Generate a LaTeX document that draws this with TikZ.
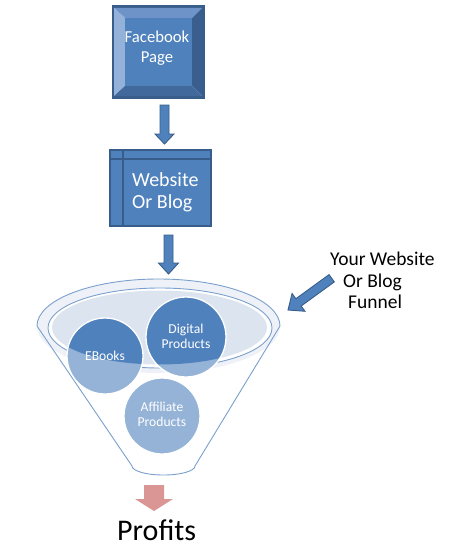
\documentclass[tikz,border=0pt]{standalone}
\usepackage{fontspec}
\setmainfont{Carlito}
\definecolor{face}{HTML}{4F81BD}
\definecolor{edge}{HTML}{385D8A}
\definecolor{lightc}{HTML}{95B3D7}
\definecolor{rim}{HTML}{7CA0CD}
\definecolor{fillell}{HTML}{DCE4EF}
\definecolor{band}{HTML}{EEF2F8}
\definecolor{pinkar}{HTML}{D99694}
\definecolor{bevtop}{HTML}{6E93C9}
\definecolor{bevleft}{HTML}{93B1D9}
\definecolor{bevright}{HTML}{3A5F8F}
\definecolor{bevbot}{HTML}{41699C}
\newcommand\blkdown[7]{% x, ytop, yhead, ytip, halfshaft, halfhead, style
  \path[#7] ({#1-#5},#2) -- ({#1+#5},#2) -- ({#1+#5},#3) -- ({#1+#6},#3) -- (#1,#4)
     -- ({#1-#6},#3) -- ({#1-#5},#3) -- cycle;}
\tikzset{
  bluearrow/.style={fill=face, draw=edge, line width=0.9pt, line join=miter},
  whitetxt/.style={text=white, inner sep=0pt},
  circtxt/.style={text=white, inner sep=0pt, align=center, font=\fontsize{13.6}{15.5}\selectfont},
  rimline/.style={draw=rim, line width=0.9pt},
  blackbig/.style={inner sep=0pt, font=\fontsize{19.5}{21.5}\selectfont},
}
\begin{document}
\begin{tikzpicture}[x=1pt,y=-1pt]
\useasboundingbox[fill=white] (0,0) rectangle (449,551);

% ---------- Facebook Page bevel box ----------
\node (fb) [draw=edge, line width=1.5pt, minimum width=90pt, minimum height=90pt, inner sep=0pt] at (158,52) {};
\fill[bevtop]   (114,8) -- (202,8) -- (192,18) -- (125,18) -- cycle;
\fill[bevleft]  (114,8) -- (125,18) -- (125,86) -- (114,96) -- cycle;
\fill[bevright] (202,8) -- (202,96) -- (192,86) -- (192,18) -- cycle;
\fill[bevbot]   (114,96) -- (202,96) -- (192,86) -- (125,86) -- cycle;
\fill[face] (125,18) rectangle (192,86);
\draw[edge, line width=1.5pt] (fb.north west) rectangle (fb.south east);
\node (fbt1) [whitetxt, anchor=base, font=\fontsize{16.7}{20}\selectfont] at (157,43) {Facebook};
\node (fbt2) [whitetxt, anchor=base, font=\fontsize{16.7}{20}\selectfont] at (157,63) {Page};

% ---------- Website box ----------
\node (web) [draw=edge, fill=face, line width=1.5pt, minimum width=101pt, minimum height=76pt, inner sep=0pt] at (160.5,188) {};
\draw[edge, line width=1.5pt] (web.north west |- 0,159) -- (web.north east |- 0,159);
\draw[edge, line width=1.5pt] (123,0 |- web.north) -- (123,0 |- web.south);
\node (webt1) [whitetxt, anchor=base west, font=\fontsize{20}{23}\selectfont] at (132,186) {Website};
\node (webt2) [whitetxt, anchor=base west, font=\fontsize{20}{23}\selectfont] at (132,208) {Or Blog};

% ---------- block arrows ----------
\blkdown{164.5}{105}{134}{144}{4.5}{9.5}{bluearrow}
\blkdown{168.5}{235}{263}{274}{4.5}{10}{bluearrow}
\blkdown{154}{485}{499}{511}{10}{19}{fill=pinkar}

% ---------- funnel ----------
\fill[band] (158.5,326) ellipse[x radius=121.5, y radius=47];
\fill[white] (160,328) ellipse[x radius=112, y radius=40];
\fill[fillell] (159.5,327.5) ellipse[x radius=107.5, y radius=37];
\draw[rimline] (160,328) ellipse[x radius=112, y radius=40];
\draw[rimline, line join=round] (132,466) -- (37,326)
   arc[start angle=180, end angle=360, x radius=121.5, y radius=47]
   -- (195,466);
\draw[rimline] (132,466) arc[start angle=180, end angle=0, x radius=31.5, y radius=9];

% circles: light base
\fill[lightc] (105,356) circle[radius=38];
\fill[lightc] (186,337) circle[radius=40];
\fill[lightc] (162,416) circle[radius=38];
% dark parts inside the funnel mouth
\begin{scope}
  \clip (159.5,327.5) ellipse[x radius=107.5, y radius=37];
  \fill[face] (105,356) circle[radius=38];
  \fill[face] (186,337) circle[radius=40];
\end{scope}
\draw[white, line width=1.3pt] (105,356) circle[radius=38];
\draw[white, line width=1.3pt] (186,337) circle[radius=40];
\draw[white, line width=1.3pt] (162,416) circle[radius=38];

\node (ebk) [circtxt, anchor=base] at (105,360) {EBooks};
\node (dig1) [circtxt, anchor=base] at (186,333) {Digital};
\node (dig2) [circtxt, anchor=base] at (186,348) {Products};
\node (aff1) [circtxt, anchor=base] at (162,411) {Affiliate};
\node (aff2) [circtxt, anchor=base] at (162,426) {Products};

% ---------- right label and arrow ----------
\node (lab1) [blackbig, anchor=base west] at (330,265) {Your Website};
\node (lab2) [blackbig, anchor=base west] at (343,287) {Or Blog};
\node (lab3) [blackbig, anchor=base west] at (348,308) {Funnel};
\coordinate (tipd) at (288,310);
\begin{scope}[shift={(tipd)}, rotate=-144]
  \path[bluearrow] (-54,-4.5) -- (-13,-4.5) -- (-13,-11) -- (0,0) -- (-13,11) -- (-13,4.5) -- (-54,4.5) -- cycle;
\end{scope}

% ---------- Profits ----------
\node (prof) [inner sep=0pt, anchor=base west, font=\fontsize{30}{34}\selectfont] at (117,540) {Profits};
\end{tikzpicture}
\end{document}
